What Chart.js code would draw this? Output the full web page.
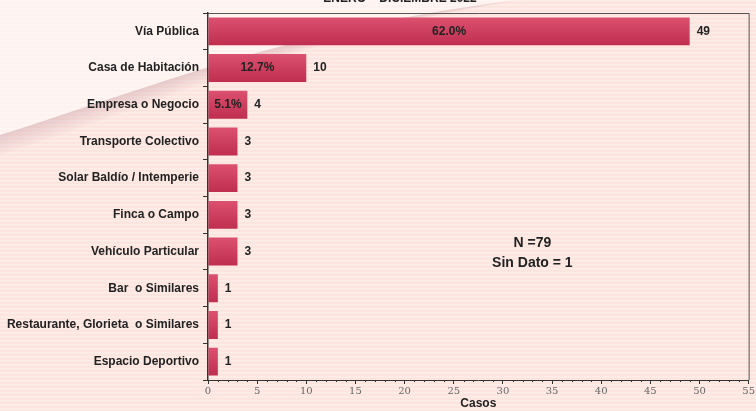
<!DOCTYPE html>
<html>
<head>
<meta charset="utf-8">
<script src="https://cdn.jsdelivr.net/npm/chart.js@4/dist/chart.umd.min.js"></script>
<style>
  html, body { margin: 0; padding: 0; background: #fde6e1; }
  #wrap { width: 756px; height: 411px; position: relative; }
</style>
</head>
<body>
<div id="wrap"><canvas id="lugar"></canvas></div>
<script>
const categories = ['Vía Pública', 'Casa de Habitación', 'Empresa o Negocio', 'Transporte Colectivo',
  'Solar Baldío / Intemperie', 'Finca o Campo', 'Vehículo Particular', 'Bar  o Similares',
  'Restaurante, Glorieta  o Similares', 'Espacio Deportivo']
const casos = [49, 10, 4, 3, 3, 3, 3, 1, 1, 1]
const porcentajes = ['62.0%', '12.7%', '5.1%', null, null, null, null, null, null, null]
const xTicks = [0, 5, 10, 15, 20, 25, 30, 35, 40, 45, 50, 55]
const notaN = ['N =79', 'Sin Dato = 1']
const titulo = 'ENERO – DICIEMBRE 2022'

const fondo = {
  id: 'fondo',
  beforeDraw(chart) {
    const ctx = chart.ctx, w = chart.width, h = chart.height
    ctx.save()
    ctx.fillStyle = '#fde5df'
    ctx.fillRect(0, 0, w, h)
    ctx.fillStyle = 'rgba(255,255,255,0.3)'
    for (let y = 0; y < h; y += 4) ctx.fillRect(0, y, w, 1.5)
    // swoosh: lighter top-left, soft shadow under the curve
    ctx.beginPath()
    ctx.moveTo(0, 0)
    ctx.lineTo(0, 135)
    ctx.bezierCurveTo(130, 95, 300, 25, 520, 0)
    ctx.closePath()
    ctx.fillStyle = 'rgba(255,255,255,0.5)'
    ctx.fill()
    for (let k = 0; k < 10; k++) {
      ctx.beginPath()
      ctx.moveTo(0, 135 + k * 2)
      ctx.bezierCurveTo(130, 95 + k * 2, 300, 25 + k, 520, 0)
      ctx.lineTo(520, 0)
      ctx.bezierCurveTo(300, 25 + (k + 1), 130, 95 + (k + 1) * 2, 0, 135 + (k + 1) * 2)
      ctx.closePath()
      ctx.fillStyle = 'rgba(185,140,155,' + (0.32 - k * 0.03) + ')'
      ctx.fill()
    }
    ctx.fillStyle = '#222'
    ctx.font = 'bold 12px "Liberation Sans", Arial'
    ctx.textAlign = 'center'
    ctx.textBaseline = 'middle'
    ctx.fillText(titulo, 400, -1)
    ctx.restore()
  },
  afterDraw(chart) {
    const ctx = chart.ctx, a = chart.chartArea
    const x = chart.scales.x
    ctx.save()
    ctx.strokeStyle = '#555'
    ctx.lineWidth = 1
    ctx.beginPath()
    ctx.moveTo(a.left, a.top + 0.5)
    ctx.lineTo(a.right + 0.5, a.top + 0.5)
    ctx.lineTo(a.right + 0.5, a.bottom)
    ctx.stroke()
    // minor ticks
    ctx.strokeStyle = '#333'
    ctx.beginPath()
    for (let v = 0; v <= 55; v++) {
      if (v % 5 === 0) continue
      const px = Math.round(x.getPixelForValue(v)) + 0.5
      ctx.moveTo(px, a.bottom)
      ctx.lineTo(px, a.bottom + 2)
    }
    ctx.stroke()
    // labels
    const meta = chart.getDatasetMeta(0)
    ctx.font = 'bold 12px "Liberation Sans", Arial'
    ctx.fillStyle = '#222'
    ctx.textBaseline = 'middle'
    meta.data.forEach((bar, i) => {
      ctx.textAlign = 'left'
      ctx.fillText(casos[i], bar.x + 7, bar.y)
      if (porcentajes[i]) {
        ctx.textAlign = 'center'
        ctx.fillText(porcentajes[i], (bar.x + bar.base) / 2, bar.y)
      }
    })
    ctx.font = 'bold 14px "Liberation Sans", Arial'
    ctx.textAlign = 'center'
    ctx.fillText(notaN[0], x.getPixelForValue(33), 243)
    ctx.fillText(notaN[1], x.getPixelForValue(33), 263)
    ctx.restore()
  }
}

const ctx = document.getElementById('lugar').getContext('2d')

new Chart(ctx, {
  type: 'bar',
  data: {
    labels: categories,
    datasets: [{
      data: casos,
      backgroundColor(c) {
        const ys = c.chart.scales.y
        if (!ys || c.dataIndex === undefined) return '#cf3c5c'
        const cy = ys.getPixelForValue(c.dataIndex)
        if (!isFinite(cy)) return '#cf3c5c'
        const g = c.chart.ctx.createLinearGradient(0, cy - 14, 0, cy + 14)
        g.addColorStop(0, '#dc516f')
        g.addColorStop(1, '#bf2e4f')
        return g
      },
      borderWidth: 0,
      categoryPercentage: 1,
      barPercentage: 0.76
    }]
  },
  plugins: [fondo],
  options: {
    indexAxis: 'y',
    responsive: true,
    maintainAspectRatio: false,
    animation: false,
    layout: { padding: { top: 13, right: 4, left: 0, bottom: 0 } },
    plugins: { legend: { display: false }, tooltip: { enabled: false } },
    scales: {
      x: {
        min: 0, max: 55,
        afterBuildTicks(s) { s.ticks = xTicks.map(v => ({ value: v })) },
        afterFit(s) { s.height = 31 },
        grid: { drawOnChartArea: false, drawTicks: true, tickLength: 4, color: '#333' },
        border: { color: '#333', width: 1 },
        ticks: { color: '#666', font: { family: '"DejaVu Serif", "Liberation Serif", serif', size: 10 }, padding: 1, maxRotation: 0 },
        title: { display: true, text: 'Casos', color: '#222', font: { family: '"Liberation Sans", Arial', size: 12, weight: 'bold' }, padding: 0 }
      },
      y: {
        afterFit(s) { s.width = 208 },
        grid: { offset: true, drawOnChartArea: false, drawTicks: true, tickLength: 5, color: '#333' },
        border: { color: '#333', width: 1.5 },
        ticks: { color: '#222', font: { family: '"Liberation Sans", Arial', size: 12, weight: 'bold' }, padding: 4, autoSkip: false }
      }
    }
  }
})
</script>
</body>
</html>
